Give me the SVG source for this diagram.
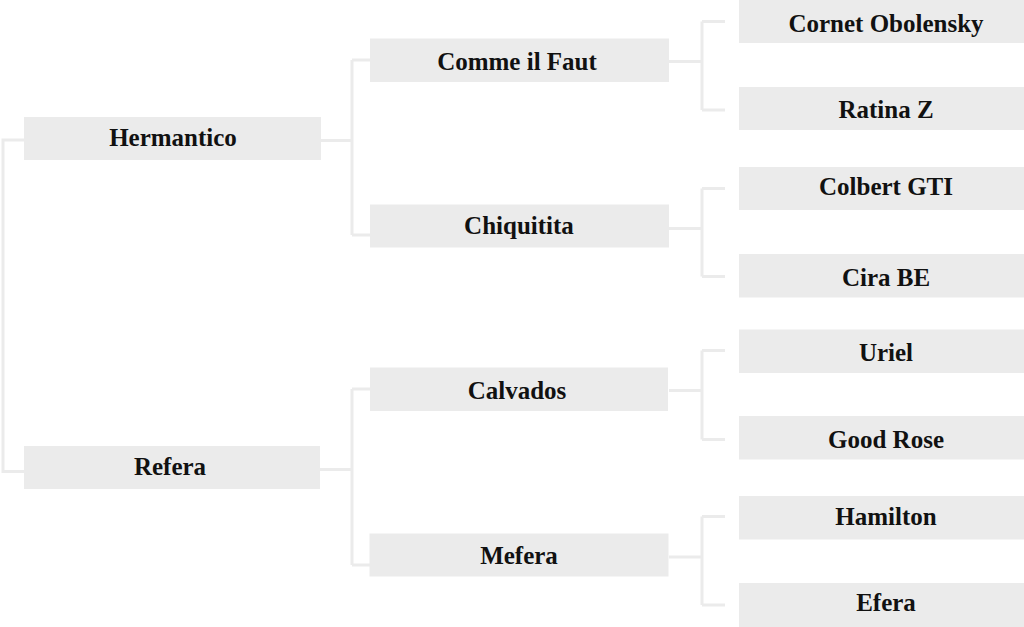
<svg xmlns="http://www.w3.org/2000/svg" width="1024" height="627" viewBox="0 0 1024 627">
<style>
.box{fill:#ebebeb}
.lbl{font-family:"Liberation Serif","Times New Roman",serif;font-weight:bold;font-size:25px;fill:#111;text-anchor:middle}
.ln{fill:none;stroke:#ebebeb;stroke-width:3}
</style>
<rect width="1024" height="627" fill="#ffffff"/>
<g id="connectors">
<path class="ln" d="M24,140 H3 V471.5 H24"/>
<path class="ln" d="M321,140.5 H352 M352,60 V235 M370,60 H352 M352,235 H370"/>
<path class="ln" d="M320,469.5 H352 M352,389 V565 M370,389 H352 M352,565 H370"/>
<path class="ln" d="M669,61.5 H702 M702,21.5 V110 M702,21.5 H725 M702,110 H725"/>
<path class="ln" d="M669,228.5 H702 M702,188.5 V276.5 M702,188.5 H725 M702,276.5 H725"/>
<path class="ln" d="M669,390.5 H702 M702,350.5 V439.5 M702,350.5 H725 M702,439.5 H725"/>
<path class="ln" d="M669,557 H702 M702,516.5 V605 M702,516.5 H725 M702,605 H725"/>
</g>
<g id="n-hermantico"><rect class="box" x="24" y="117" width="297" height="43"/><text class="lbl" x="173" y="146">Hermantico</text></g>
<g id="n-refera"><rect class="box" x="24" y="446" width="296" height="43"/><text class="lbl" x="170" y="475">Refera</text></g>
<g id="n-comme"><rect class="box" x="370" y="38.5" width="299" height="43.5"/><text class="lbl" x="517" y="70">Comme il Faut</text></g>
<g id="n-chiquitita"><rect class="box" x="370" y="204.5" width="299" height="43"/><text class="lbl" x="519" y="233.5">Chiquitita</text></g>
<g id="n-calvados"><rect class="box" x="370" y="367.5" width="298" height="43.5"/><text class="lbl" x="517" y="398.5">Calvados</text></g>
<g id="n-mefera"><rect class="box" x="369.5" y="533.5" width="299" height="43"/><text class="lbl" x="519" y="563.5">Mefera</text></g>
<g id="n-cornet"><rect class="box" x="739" y="0" width="290" height="43"/><text class="lbl" x="886" y="32">Cornet Obolensky</text></g>
<g id="n-ratina"><rect class="box" x="739" y="87" width="290" height="43"/><text class="lbl" x="886" y="118">Ratina Z</text></g>
<g id="n-colbert"><rect class="box" x="739" y="167" width="290" height="43"/><text class="lbl" x="886" y="195">Colbert GTI</text></g>
<g id="n-cira"><rect class="box" x="739" y="254" width="290" height="43.5"/><text class="lbl" x="886" y="286">Cira BE</text></g>
<g id="n-uriel"><rect class="box" x="739" y="329.5" width="290" height="43.5"/><text class="lbl" x="886" y="360.5">Uriel</text></g>
<g id="n-goodrose"><rect class="box" x="739" y="416" width="290" height="43.5"/><text class="lbl" x="886" y="447.5">Good Rose</text></g>
<g id="n-hamilton"><rect class="box" x="739" y="496" width="290" height="43.5"/><text class="lbl" x="886" y="525">Hamilton</text></g>
<g id="n-efera"><rect class="box" x="739" y="583" width="290" height="44"/><text class="lbl" x="886" y="611">Efera</text></g>
</svg>
